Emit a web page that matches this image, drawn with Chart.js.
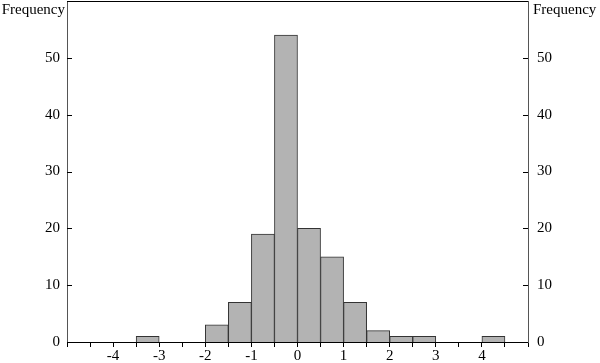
<!DOCTYPE html>
<html>
<head>
<meta charset="utf-8">
<script src="https://cdn.jsdelivr.net/npm/chart.js@4"></script>
<style>
  html, body { margin: 0; padding: 0; background: #fff; }
  #wrap { width: 600px; height: 363px; }
</style>
</head>
<body>
<div id="wrap"><canvas id="hist" width="600" height="363"></canvas></div>
<script>
// bin centres (bin width 0.5) and counts, empty bins left out
const binCentres = [-3.25, -1.75, -1.25, -0.75, -0.25, 0.25, 0.75, 1.25, 1.75, 2.25, 2.75, 4.25];
const counts     = [1, 3, 7, 19, 54, 20, 15, 7, 2, 1, 1, 1];
const xTicks = [-5, -4.5, -4, -3.5, -3, -2.5, -2, -1.5, -1, -0.5, 0, 0.5, 1, 1.5, 2, 2.5, 3, 3.5, 4, 4.5, 5];
const yTicks = [0, 10, 20, 30, 40, 50, 60];
const axisTitle = 'Frequency';

const serif = "'Liberation Serif', 'Times New Roman', serif";

// inward tick marks on both y axes, top border, and the "Frequency" labels
const framePlugin = {
  id: 'frame',
  afterDraw(chart) {
    const ctx = chart.ctx;
    const a = chart.chartArea;
    const ys = chart.scales.y;
    ctx.save();
    ctx.strokeStyle = '#000';
    ctx.lineWidth = 1;
    ctx.beginPath();
    ctx.moveTo(a.left, a.top + 0.5);
    ctx.lineTo(a.right, a.top + 0.5);
    yTicks.forEach(v => {
      const py = Math.round(ys.getPixelForValue(v)) + 0.5;
      ctx.moveTo(a.left, py); ctx.lineTo(a.left + 5, py);
      ctx.moveTo(a.right, py); ctx.lineTo(a.right - 5, py);
    });
    ctx.stroke();
    ctx.fillStyle = '#000';
    ctx.font = '15px ' + serif;
    ctx.textBaseline = 'alphabetic';
    ctx.textAlign = 'right';
    ctx.fillText(axisTitle, a.left - 2, 14);
    ctx.textAlign = 'left';
    ctx.fillText(axisTitle, a.right + 5, 14);
    ctx.restore();
  }
};

const yTickOpts = (pad) => ({
  color: '#000',
  font: { family: serif, size: 15 },
  padding: pad,
  callback: v => (v === 60 ? '' : String(v))
});

const fitY = w => s => { s.width = w; s.paddingTop = 0; s.paddingBottom = 0; };

new Chart(document.getElementById('hist'), {
  type: 'bar',
  data: {
    datasets: [{
      data: binCentres.map((c, i) => ({ x: c, y: counts[i] })),
      backgroundColor: '#b3b3b3',
      borderColor: '#333',
      borderWidth: 1,
      barPercentage: 1,
      categoryPercentage: 1
    }]
  },
  options: {
    responsive: false,
    animation: false,
    layout: { padding: { top: 1, right: 0, left: 0, bottom: 0 } },
    plugins: { legend: { display: false }, tooltip: { enabled: false } },
    scales: {
      x: {
        type: 'linear',
        min: -5, max: 5,
        offset: false,
        afterBuildTicks: s => { s.ticks = xTicks.map(v => ({ value: v })); },
        afterFit: s => { s.height = 21; s.paddingLeft = 0; s.paddingRight = 0; },
        grid: { offset: false, drawOnChartArea: false, drawTicks: true, tickLength: 5, color: '#000' },
        border: { color: '#000' },
        ticks: {
          color: '#000',
          font: { family: serif, size: 15 },
          padding: 0,
          autoSkip: false,
          maxRotation: 0,
          callback: v => (Number.isInteger(v) && Math.abs(v) < 5 ? String(v) : '')
        }
      },
      y: {
        position: 'left',
        min: 0, max: 60,
        afterBuildTicks: s => { s.ticks = yTicks.map(v => ({ value: v })); },
        afterFit: fitY(67),
        grid: { display: false, drawTicks: false },
        border: { color: '#555' },
        ticks: yTickOpts(7)
      },
      y2: {
        position: 'right',
        min: 0, max: 60,
        afterBuildTicks: s => { s.ticks = yTicks.map(v => ({ value: v })); },
        afterFit: fitY(72),
        grid: { display: false, drawTicks: false },
        border: { color: '#555' },
        ticks: yTickOpts(9)
      }
    }
  },
  plugins: [framePlugin]
});
</script>
</body>
</html>
